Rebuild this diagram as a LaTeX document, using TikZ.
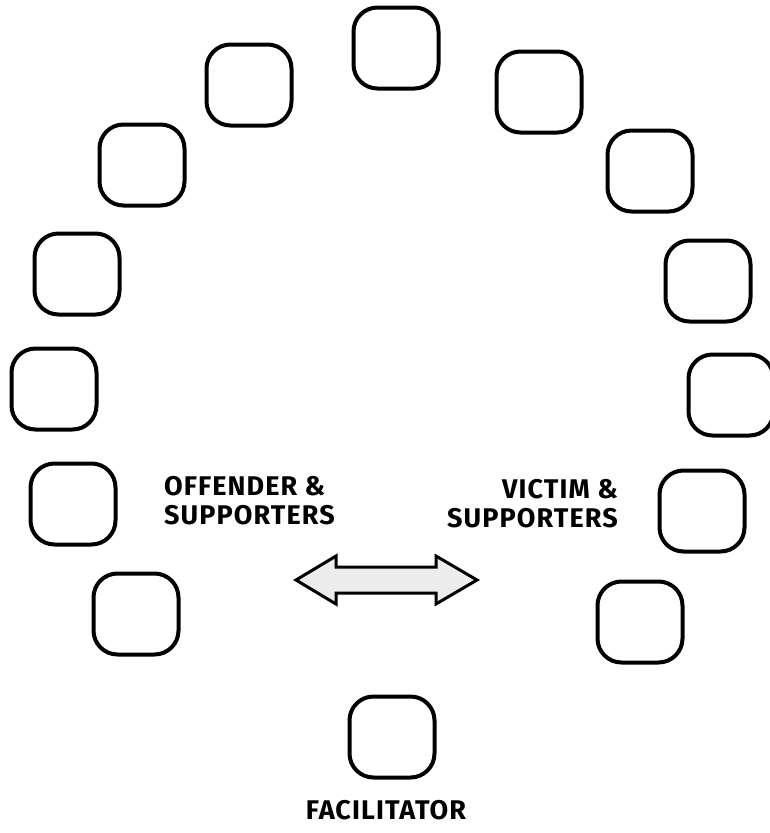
\documentclass[tikz,border=0pt]{standalone}
\usepackage{fontspec}
\setmainfont{Fira Sans}[LetterSpace=4]
\begin{document}
\begin{tikzpicture}[x=1pt,y=-1pt,
  seat/.style={draw=black,line width=4pt,rounded corners=24pt,minimum width=85pt,minimum height=81pt,inner sep=0pt},
  lbl/.style={font=\fontsize{27}{29}\selectfont\bfseries,inner sep=0pt}]
\useasboundingbox (0,0) rectangle (769,833);
\node[seat] (s1) at (396,48) {};
\node[seat] (s2) at (249,85) {};
\node[seat] (s3) at (539,92) {};
\node[seat] (s4) at (142,165) {};
\node[seat] (s5) at (650,171) {};
\node[seat] (s6) at (77,274) {};
\node[seat] (s7) at (708,281) {};
\node[seat] (s8) at (54,389) {};
\node[seat] (s9) at (731,395) {};
\node[seat] (s10) at (73,504) {};
\node[seat] (s11) at (702,511) {};
\node[seat] (s12) at (136,614) {};
\node[seat] (s13) at (640,622) {};
\node[seat] (s14) at (392,737) {};
\node[lbl,anchor=north west,align=left] (off) at (164,476) {OFFENDER \&\\SUPPORTERS};
\node[lbl,anchor=north east,align=right] (vic) at (618,479) {VICTIM \&\\SUPPORTERS};
\node[lbl] (fac) at (386,810) {FACILITATOR};
\coordinate (arrL) at (296,580);
\coordinate (arrR) at (477,580);
\draw[line width=3pt,fill=gray!15,line join=miter]
  (arrL) -- (336,556) -- (336,567) -- (436,567) -- (436,556) -- (arrR)
  -- (436,604) -- (436,593) -- (336,593) -- (336,604) -- cycle;
\end{tikzpicture}
\end{document}
